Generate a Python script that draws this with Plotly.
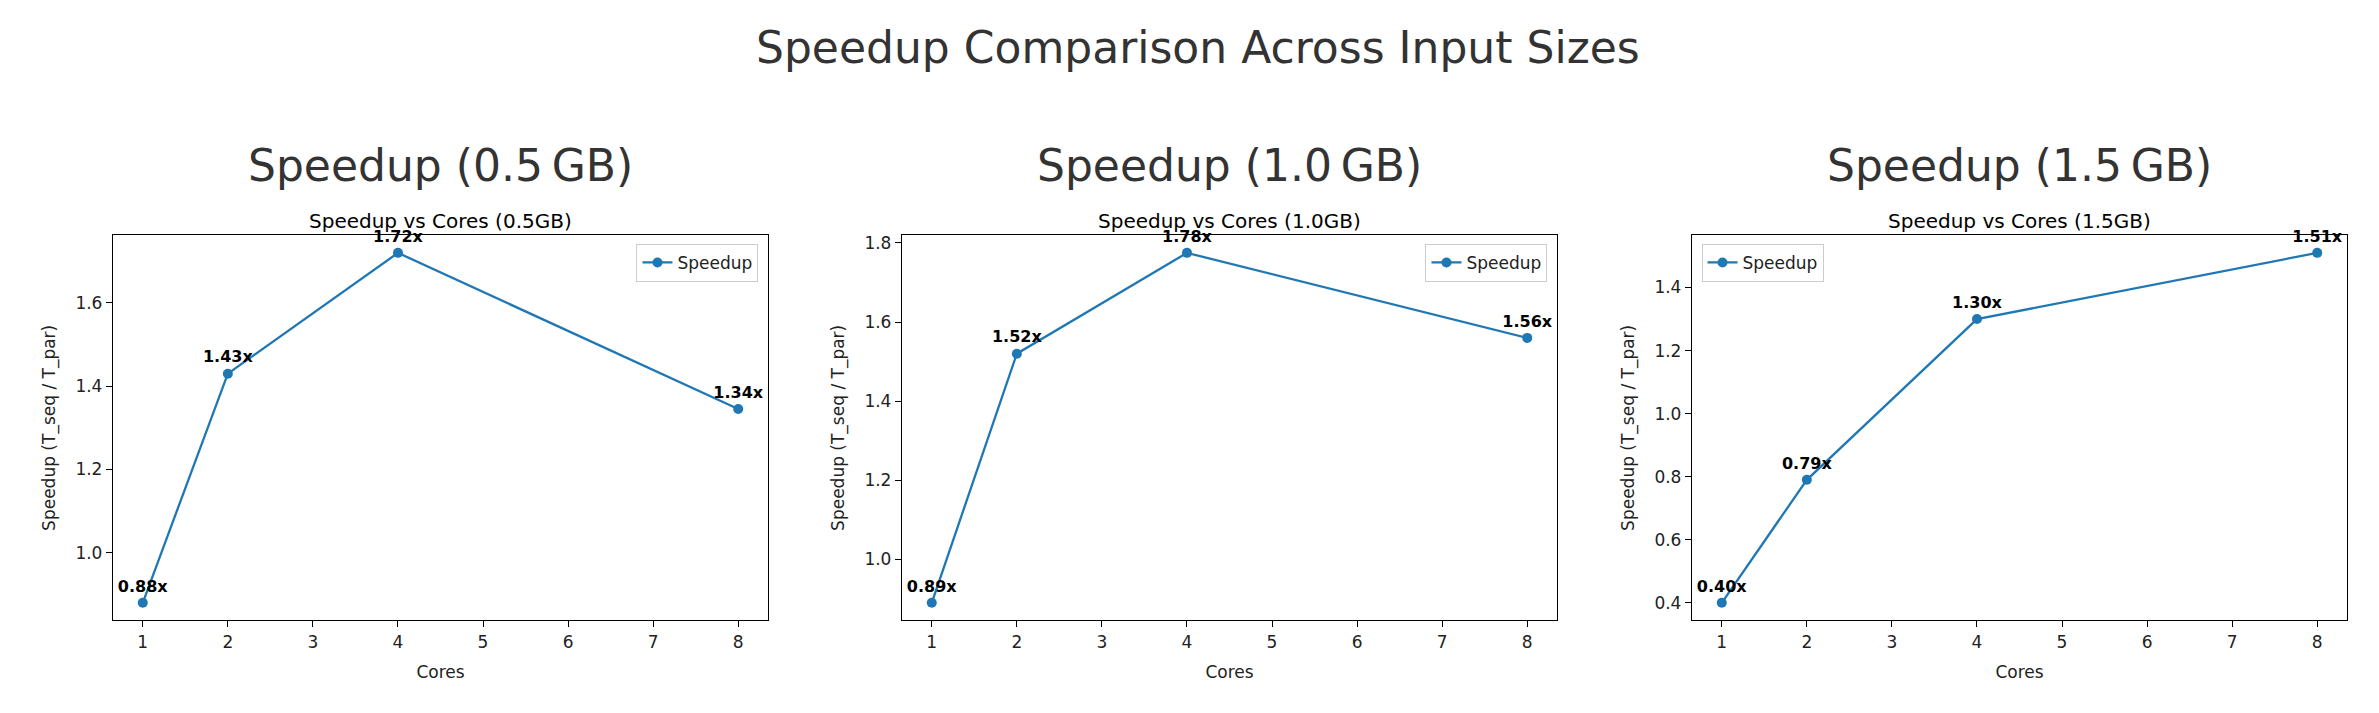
import plotly.graph_objects as go

cores = [1, 2, 4, 8]
sizes = ["0.5", "1.0", "1.5"]
speedup_05 = [0.88, 1.43, 1.72, 1.345]
speedup_10 = [0.89, 1.52, 1.775, 1.56]
speedup_15 = [0.40, 0.79, 1.30, 1.51]
labels_05 = ["0.88x", "1.43x", "1.72x", "1.34x"]
labels_10 = ["0.89x", "1.52x", "1.78x", "1.56x"]
labels_15 = ["0.40x", "0.79x", "1.30x", "1.51x"]

series = [speedup_05, speedup_10, speedup_15]
labels = [labels_05, labels_10, labels_15]
legend_pos = ["right", "right", "left"]

W, H = 2379, 713
x_doms = [(105, 760), (894, 1549), (1684, 2339)]
y_dom = [1 - 612 / H, 1 - 226 / H]
blue = "#1f77b4"
font = "DejaVu Sans"

fig = go.Figure()
annotations = [dict(text="Speedup Comparison Across Input Sizes", x=0.5, y=1 - 38 / H,
                    xref="paper", yref="paper", showarrow=False,
                    xanchor="center", yanchor="middle",
                    font=dict(size=44, color="#333333", family=font))]

for i, (vals, labs) in enumerate(zip(series, labels)):
    n = "" if i == 0 else str(i + 1)
    lg = "legend" + n
    fig.add_trace(go.Scatter(
        x=cores, y=vals, mode="lines+markers+text", name="Speedup",
        text=labs, textposition="top center",
        textfont=dict(size=16, color="black", family=font, weight="bold"),
        line=dict(color=blue, width=2.3), marker=dict(size=10, color=blue),
        xaxis="x" + n, yaxis="y" + n, legend=lg, cliponaxis=False))
    lo, hi = min(vals), max(vals)
    pad = (hi - lo) * 0.05
    x0, x1 = x_doms[i][0] / W, x_doms[i][1] / W
    axis = dict(showline=True, linecolor="black", linewidth=1.3, mirror=True,
                ticks="outside", ticklen=6, tickcolor="black", showgrid=False,
                zeroline=False, tickfont=dict(size=17, color="#222", family=font))
    fig.layout["xaxis" + n] = dict(axis, domain=[x0, x1], range=[0.65, 8.35],
                                   dtick=1, anchor="y" + n,
                                   title=dict(text="Cores", font=dict(size=17, family=font, color="#222")))
    fig.layout["yaxis" + n] = dict(axis, domain=y_dom, range=[lo - pad, hi + pad],
                                   dtick=0.2, tickformat=".1f", anchor="x" + n,
                                   title=dict(text="Speedup (T_seq / T_par)", font=dict(size=17, family=font, color="#222")))
    if legend_pos[i] == "right":
        lx, xa = x1 - 0.004, "right"
    else:
        lx, xa = x0 + 0.004, "left"
    fig.layout[lg] = dict(x=lx, xanchor=xa, y=y_dom[1] - 0.012, yanchor="top",
                          bordercolor="#cccccc", borderwidth=1, bgcolor="white",
                          font=dict(size=17, family=font, color="#222"))
    cx = (x0 + x1) / 2
    annotations.append(dict(text=f"Speedup ({sizes[i]}\u2009GB)", x=cx, y=1 - 156 / H,
                            xref="paper", yref="paper", showarrow=False,
                            xanchor="center", yanchor="middle",
                            font=dict(size=44, color="#333333", family=font)))
    annotations.append(dict(text=f"Speedup vs Cores ({sizes[i]}GB)", x=cx, y=1 - 212 / H,
                            xref="paper", yref="paper", showarrow=False,
                            xanchor="center", yanchor="middle",
                            font=dict(size=20, color="black", family=font)))

fig.update_layout(width=W, height=H, margin=dict(l=0, r=0, t=0, b=0),
                  plot_bgcolor="white", paper_bgcolor="white",
                  annotations=annotations, showlegend=True)
fig.write_html("out.html")
